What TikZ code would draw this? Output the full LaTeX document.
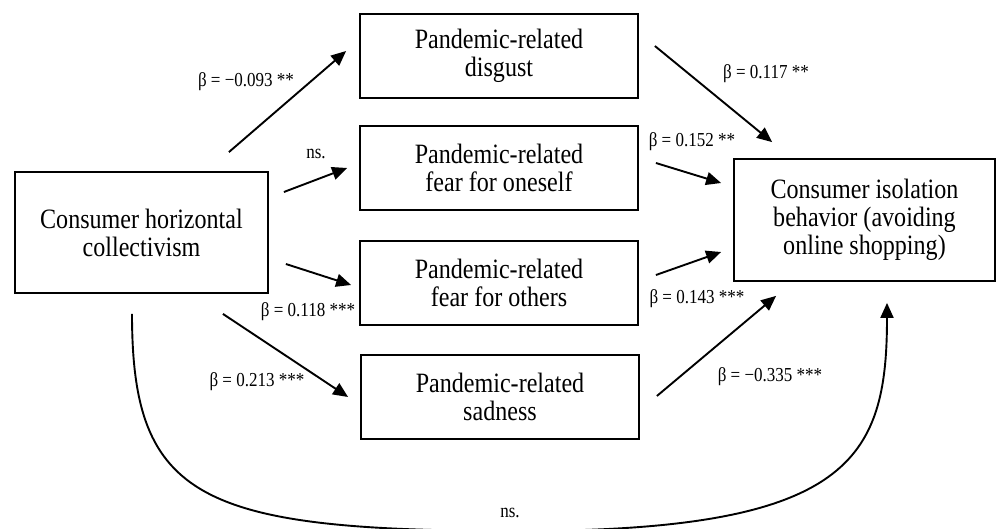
\documentclass[tikz,border=0pt]{standalone}
\usepackage{fontspec}
\setmainfont{Liberation Serif}[FakeStretch=0.86]
\usetikzlibrary{arrows.meta,positioning}
\definecolor{Ink}{HTML}{000000}
\tikzset{
  construct/.style={rectangle,draw=Ink,line width=1.8pt,fill=white,align=center,
    font=\fontsize{28}{28}\selectfont,inner sep=0pt},
  emotion/.style={construct,minimum width=278pt,minimum height=84pt},
  effect/.style={-{Triangle[length=15pt,width=13pt]},draw=Ink,line width=1.9pt},
  coef/.style={font=\fontsize{19.8}{22}\selectfont,inner sep=0pt}
}
\begin{document}
\begin{tikzpicture}[x=1pt,y=-1pt]
  \clip (0,0) rectangle (996,529);
  % Predictor, mediators and outcome
  \node[construct,minimum width=253pt,minimum height=121pt] (collect) at (141.5,232.5) {Consumer horizontal\\collectivism};
  \node[emotion] (disgust) at (499,56) {Pandemic-related\\disgust};
  \node[emotion] (fearSelf) at (499,168) {Pandemic-related\\fear for oneself};
  \node[emotion] (fearOthers) at (499,283) {Pandemic-related\\fear for others};
  \node[emotion] (sadness) at (500,397) {Pandemic-related\\sadness};
  \node[construct,minimum width=261pt,minimum height=122pt] (isolation) at (864.5,220) {Consumer isolation\\behavior (avoiding\\online shopping)};

  % Paths a: collectivism to emotions
  \draw[effect] ([shift={(-40,-19)}]collect.north east) -- ([shift={(-13,-5)}]disgust.west);
  \draw[effect] ([shift={(15,-40.5)}]collect.east) -- ([shift={(-12,0)}]fearSelf.west);
  \draw[effect] ([shift={(17,31.5)}]collect.east) -- ([shift={(-8,2)}]fearOthers.west);
  \draw[effect] ([shift={(-46,20)}]collect.south east) -- ([shift={(-12,0)}]sadness.west);

  % Paths b: emotions to isolation behavior
  \draw[effect] ([shift={(16,-10)}]disgust.east) -- ([shift={(39,-16)}]isolation.north west);
  \draw[effect] ([shift={(17,-5)}]fearSelf.east) -- ([shift={(-12,-37)}]isolation.west);
  \draw[effect] ([shift={(17,-8)}]fearOthers.east) -- ([shift={(-12,32)}]isolation.west);
  \draw[effect] ([shift={(17,-1)}]sadness.east) -- ([shift={(43,14)}]isolation.south west);

  % Direct path c'
  \draw[effect] ([shift={(-9.5,20)}]collect.south) .. controls (132,500) and (200,531) .. (520,531)
    .. controls (850,531) and (887,460) .. ([shift={(22.5,21)}]isolation.south);

  % Coefficients
  \node[coef] (aDisgust) at (246,82) {β = −0.093 **};
  \node[coef] (aSelf) at (316,154) {ns.};
  \node[coef] (aOthers) at (308,312) {β = 0.118 ***};
  \node[coef] (aSad) at (257,382) {β = 0.213 ***};
  \node[coef] (bDisgust) at (766,74) {β = 0.117 **};
  \node[coef] (bSelf) at (692,142) {β = 0.152 **};
  \node[coef] (bOthers) at (697,299) {β = 0.143 ***};
  \node[coef] (bSad) at (770,377) {β = −0.335 ***};
  \node[coef] (direct) at (510,513) {ns.};
\end{tikzpicture}
\end{document}
